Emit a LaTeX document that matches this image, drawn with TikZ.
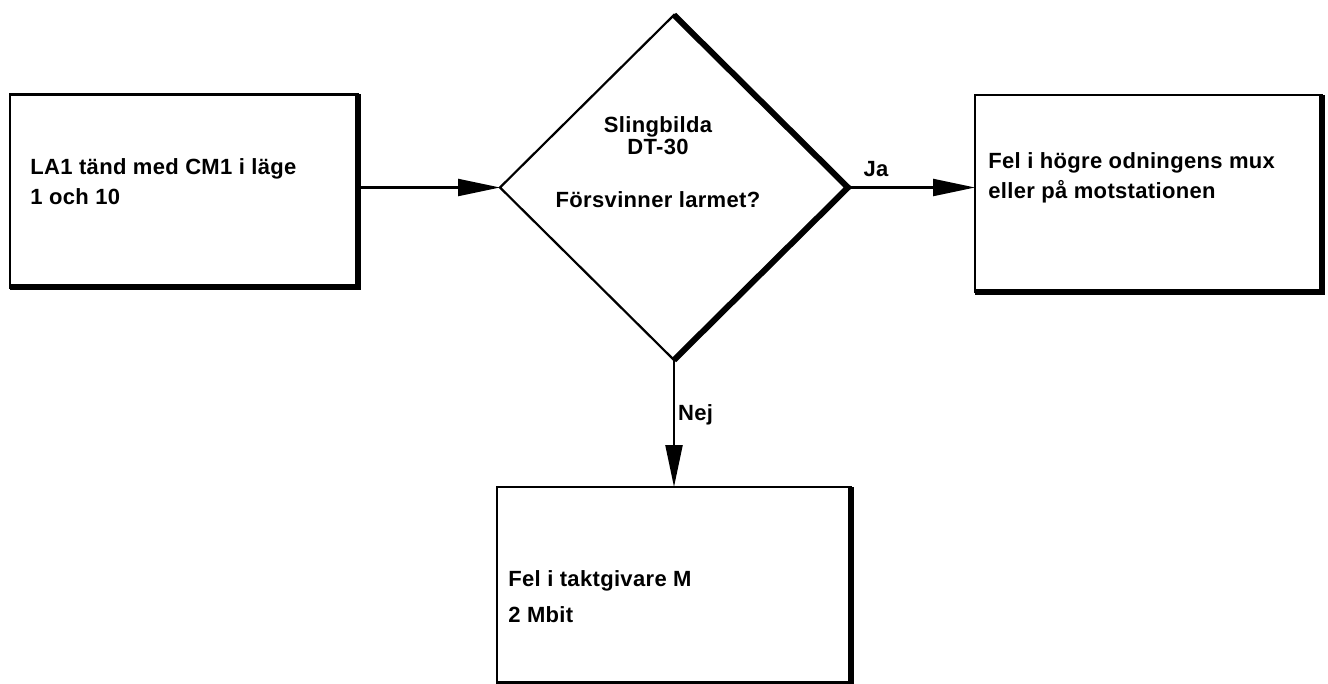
\documentclass[tikz,border=0pt]{standalone}
\usepackage{fontspec}
\setmainfont{Liberation Sans}[LetterSpace=1.5]
\usepackage{tikz}
\usetikzlibrary{arrows.meta,positioning,shapes.geometric}

\begin{document}
\begin{tikzpicture}[
    x=1pt, y=1pt,
    font=\bfseries\fontsize{11pt}{15pt}\selectfont,
    box/.style={draw, line width=1.1pt, outer sep=0pt, inner sep=0pt},
    decision/.style={draw, diamond, line width=1.1pt, outer sep=0pt, inner sep=0pt, minimum width=174pt, minimum height=172.5pt},
    txt/.style={inner sep=0pt, align=left},
    dtxt/.style={inner sep=0pt, align=center, font=\bfseries\fontsize{11pt}{11pt}\selectfont},
    lbl/.style={inner sep=0pt},
    heavy/.style={line width=3pt},
    arrow/.style={-{Triangle[length=21pt, width=8.5pt]}, line width=1.1pt}
]
\useasboundingbox (0,0) rectangle (664,-342);
\node[decision] (loop_test) at (337,-93.75) {};
\node[box, minimum width=174pt, minimum height=96.5pt, left=71pt of loop_test, yshift=-1.75pt] (start_box) {};
\node[box, minimum width=173.5pt, minimum height=98.5pt, right=63.5pt of loop_test, yshift=-3pt] (mux_box) {};
\node[box, minimum width=177pt, minimum height=98.5pt, below=63.5pt of loop_test] (clock_box) {};

\node[dtxt] (loop_txt) at ([xshift=-8pt, yshift=12.5pt]loop_test.center) {Slingbilda\\DT-30\\[15.5pt]Försvinner larmet?};
\node[txt, below right=32pt and 10pt of start_box.north west] (start_txt) {LA1 tänd med CM1 i läge\\1 och 10};
\node[txt, below right=28.5pt and 6.5pt of mux_box.north west] (mux_txt) {Fel i högre odningens mux\\eller på motstationen};
\node[txt, below right=41.5pt and 5.5pt of clock_box.north west] (clock_txt) {Fel i taktgivare M\\[3pt]2 Mbit};

\draw[heavy] (loop_test.north) -- (loop_test.east) -- (loop_test.south);
\draw[heavy] (start_box.north east) -- (start_box.south east) -- (start_box.south west);
\draw[heavy] (mux_box.north east) -- (mux_box.south east) -- (mux_box.south west);
\draw[heavy] (clock_box.north east) -- (clock_box.south east) -- (clock_box.south west);

\draw[arrow] (start_box.east |- loop_test.west) -- (loop_test.west);
\draw[arrow] (loop_test.east) -- node[lbl, above=5pt, pos=0.22] (yes_lbl) {Ja} (loop_test.east -| mux_box.west);
\draw[arrow] (loop_test.south) -- node[lbl, right=1.5pt, pos=0.43] (no_lbl) {Nej} (clock_box.north);
\end{tikzpicture}
\end{document}
